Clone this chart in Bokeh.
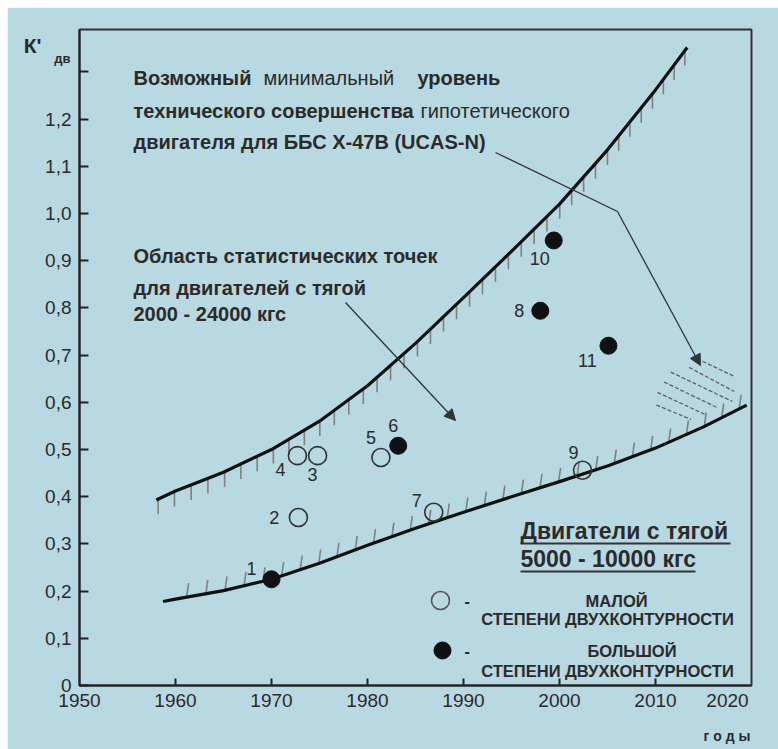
import numpy as np
from bokeh.plotting import figure
from bokeh.models import Label, Arrow, NormalHead, Range1d, FixedTicker, CustomJSTickFormatter
from bokeh.embed import file_html
from bokeh.resources import INLINE

# ---------------- data ----------------
engine_ids = ["1", "2", "3", "4", "5", "6", "7", "8", "9", "10", "11"]
engine_years = [1970.0, 1972.8, 1974.8, 1972.7, 1981.4, 1983.2, 1986.9, 1998.0, 2002.4, 1999.4, 2005.1]
engine_k = [0.225, 0.356, 0.487, 0.487, 0.483, 0.508, 0.367, 0.794, 0.456, 0.943, 0.720]
engine_high_bypass = [True, False, False, False, False, True, False, True, False, True, True]

upper_years = [1958, 1960, 1965, 1970, 1975, 1980, 1985, 1990, 1995, 2000, 2005, 2010, 2013.3]
upper_k = [0.393, 0.412, 0.452, 0.50, 0.56, 0.635, 0.725, 0.822, 0.92, 1.02, 1.135, 1.262, 1.352]

lower_years = [1958.7, 1960, 1965, 1970, 1975, 1980, 1985, 1990, 1995, 2000, 2005, 2010, 2015, 2019.5]
lower_k = [0.178, 0.183, 0.201, 0.225, 0.259, 0.297, 0.333, 0.367, 0.400, 0.432, 0.465, 0.503, 0.548, 0.594]

x_ticks = [1950, 1960, 1970, 1980, 1990, 2000, 2010, 2020]
y_ticks = [0, 0.1, 0.2, 0.3, 0.4, 0.5, 0.6, 0.7, 0.8, 0.9, 1.0, 1.1, 1.2, 1.3]

# label offsets (px) of the engine numbers relative to their points
num_dx = [-20, -24, -5, -17, -10, -5, -17, -21, -9, -14, -21]
num_dy = [-11, 0, 19, 14, -20, -20, -12, 0, -18, 18, 15]

BG = "#b8d8e2"
INK = "#2b2b2b"
FONT = "Liberation Sans"

X0, X1 = 1950, 2020
Y0, Y1 = 0, 1.39
FW, FH = 672, 656
pxx = FW / (X1 - X0)
pxy = FH / (Y1 - Y0)

# page-pixel -> data helpers (frame: left 79, zero line 685 in page pixels)
def dx(px):
    return X0 + (px - 79) / pxx

def dy(py):
    return (685 - py) / pxy

p = figure(width=771, height=742, output_backend="svg", toolbar_location=None,
           x_range=Range1d(X0, X1), y_range=Range1d(Y0, Y1), margin=(7, 0, 0, 7),
           min_border_left=72, min_border_right=27, min_border_top=22, min_border_bottom=64)
p.background_fill_color = BG
p.border_fill_color = BG
p.outline_line_color = "#333333"
p.outline_line_width = 2
p.grid.visible = False

for ax in (p.xaxis[0], p.yaxis[0]):
    ax.axis_line_color = "#222222"
    ax.axis_line_width = 2
    ax.major_tick_line_color = "#222222"
    ax.major_tick_line_width = 2
    ax.minor_tick_line_color = None
    ax.major_tick_out = 0
    ax.major_label_text_font = FONT
    ax.major_label_text_font_size = "19px"
    ax.major_label_text_color = INK

# x axis: last label sits left of the frame edge, as in the original
x_label_pos = x_ticks[:-1] + [dx(727)]
p.xaxis.ticker = FixedTicker(ticks=x_label_pos)
p.xaxis.major_label_overrides = {dx(727): str(x_ticks[-1])}
p.xaxis.major_tick_line_color = None
p.xaxis.major_label_standoff = 8
tick_x = [t for t in x_ticks if X0 < t < X1]
p.segment(x0=tick_x, y0=[0] * len(tick_x), x1=tick_x, y1=[7 / pxy] * len(tick_x),
          line_color="#222222", line_width=2)

p.yaxis.ticker = FixedTicker(ticks=y_ticks)
p.yaxis.major_tick_in = 9
p.yaxis.major_label_standoff = 8
p.yaxis.formatter = CustomJSTickFormatter(code="""
if (Math.abs(tick) < 1e-9) return "0";
if (Math.abs(tick - 1.3) < 1e-9) return "";
return tick.toFixed(1).replace('.', ',');
""")


def make_label(text, x, y, size, bold=True, align="left", baseline="middle", xo=0, yo=0, color=INK):
    return Label(x=x, y=y, text=text, x_offset=xo, y_offset=yo,
                 text_font=FONT, text_font_size=f"{size}px",
                 text_font_style="bold" if bold else "normal",
                 text_color=color, text_align=align, text_baseline=baseline)


def lab(text, x, y, size, **kw):
    p.add_layout(make_label(text, x, y, size, **kw))


# texts outside the frame live in side panels (so they are not clipped)
p.add_layout(make_label("К'", dx(41), dy(45), 21, align="right"), "left")
p.add_layout(make_label("дв", dx(70), dy(58), 13, align="right"), "left")
p.add_layout(make_label("г о д ы", dx(750), dy(735), 14, align="right"), "below")

# ---------------- hatching along curves ----------------
def hatches(xs, ys, spacing_px, start_px):
    xs = np.asarray(xs, float); ys = np.asarray(ys, float)
    sx = (xs - X0) * pxx; sy = (ys - Y0) * pxy
    seg = np.hypot(np.diff(sx), np.diff(sy))
    s = np.concatenate([[0], np.cumsum(seg)])
    pos = np.arange(start_px, s[-1], spacing_px)
    return np.interp(pos, s, xs), np.interp(pos, s, ys)

hx, hy = hatches(upper_years, upper_k, 18.0, 2.0)
p.segment(x0=hx, y0=hy, x1=hx, y1=hy - 15 / pxy, line_color="#808080", line_width=1.6)

lx, ly = hatches(lower_years, lower_k, 19.5, 24.0)
p.segment(x0=lx, y0=ly, x1=lx + 2 / pxx, y1=ly + 14 / pxy, line_color="#808080", line_width=1.6)

# dashed hatched zone near 2015-2020
zone_x0 = [2014.9, 2013.5, 2011.6, 2010.9, 2010.2, 2010.1]
zone_y0 = [0.687, 0.674, 0.664, 0.643, 0.621, 0.594]
zone_x1 = [2018.2, 2018.2, 2018.0, 2016.4, 2015.2, 2013.7]
zone_y1 = [0.655, 0.623, 0.602, 0.589, 0.574, 0.564]
p.segment(x0=zone_x0, y0=zone_y0, x1=zone_x1, y1=zone_y1, line_color="#606060",
          line_width=1.3, line_dash="4 2")

# ---------------- curves ----------------
p.line(upper_years, upper_k, line_color="#111111", line_width=3.2, line_join="round")
p.line(lower_years, lower_k, line_color="#111111", line_width=3.2, line_join="round")

# ---------------- arrows ----------------
p.add_layout(Arrow(end=NormalHead(size=11, fill_color="#333333", line_color="#333333"),
                   x_start=dx(345), y_start=dy(302), x_end=dx(455), y_end=dy(420),
                   line_color="#333333", line_width=1.3))
p.line([dx(495), dx(617)], [dy(152), dy(211)], line_color="#333333", line_width=1.3)
p.add_layout(Arrow(end=NormalHead(size=11, fill_color="#333333", line_color="#333333"),
                   x_start=dx(617), y_start=dy(211), x_end=dx(700), y_end=dy(365),
                   line_color="#333333", line_width=1.3))

# ---------------- points ----------------
ox = [x for x, h in zip(engine_years, engine_high_bypass) if not h]
oy = [y for y, h in zip(engine_k, engine_high_bypass) if not h]
fx = [x for x, h in zip(engine_years, engine_high_bypass) if h]
fy = [y for y, h in zip(engine_k, engine_high_bypass) if h]
p.scatter(ox, oy, size=18, marker="circle", fill_color=None, line_color="#333333", line_width=1.6)
p.scatter(fx, fy, size=17, marker="circle", fill_color="#111111", line_color="#111111")

for name, x, y, ddx, ddy in zip(engine_ids, engine_years, engine_k, num_dx, num_dy):
    lab(name, x, y, 18, bold=False, align="center", xo=ddx, yo=-ddy)

# ---------------- texts ----------------
lab("Возможный", dx(133), dy(77), 20)
lab("минимальный", dx(263), dy(77), 20, bold=False)
lab("уровень", dx(417), dy(77), 20)
lab("технического совершенства", dx(133), dy(110), 20)
lab("гипотетического", dx(420), dy(110), 20, bold=False)
lab("двигателя для ББС Х-47В (UCAS-N)", dx(133), dy(141), 20)

lab("Область статистических точек", dx(133), dy(255), 20)
lab("для двигателей с тягой", dx(133), dy(287), 20)
lab("2000 - 24000 кгс", dx(133), dy(313), 20)

lab("Двигатели с тягой", dx(520), dy(530), 23)
lab("5000 - 10000 кгс", dx(520), dy(558), 23)
p.segment(x0=[dx(520), dx(520)], y0=[dy(543), dy(571)], x1=[dx(730), dx(695)], y1=[dy(543), dy(571)],
          line_color="#333333", line_width=2)

# legend
p.scatter([dx(440)], [dy(600)], size=18, marker="circle", fill_color=None, line_color="#555555", line_width=1.6)
p.scatter([dx(442)], [dy(650)], size=17, marker="circle", fill_color="#111111", line_color="#111111")
lab("-", dx(464), dy(600), 16)
lab("-", dx(464), dy(650), 16)
lab("МАЛОЙ", dx(585), dy(600), 16.5)
lab("СТЕПЕНИ ДВУХКОНТУРНОСТИ", dx(607), dy(618), 16.5, align="center")
lab("БОЛЬШОЙ", dx(587), dy(650), 16.5)
lab("СТЕПЕНИ ДВУХКОНТУРНОСТИ", dx(607), dy(670), 16.5, align="center")

open("out.html", "w").write(file_html(p, INLINE))
